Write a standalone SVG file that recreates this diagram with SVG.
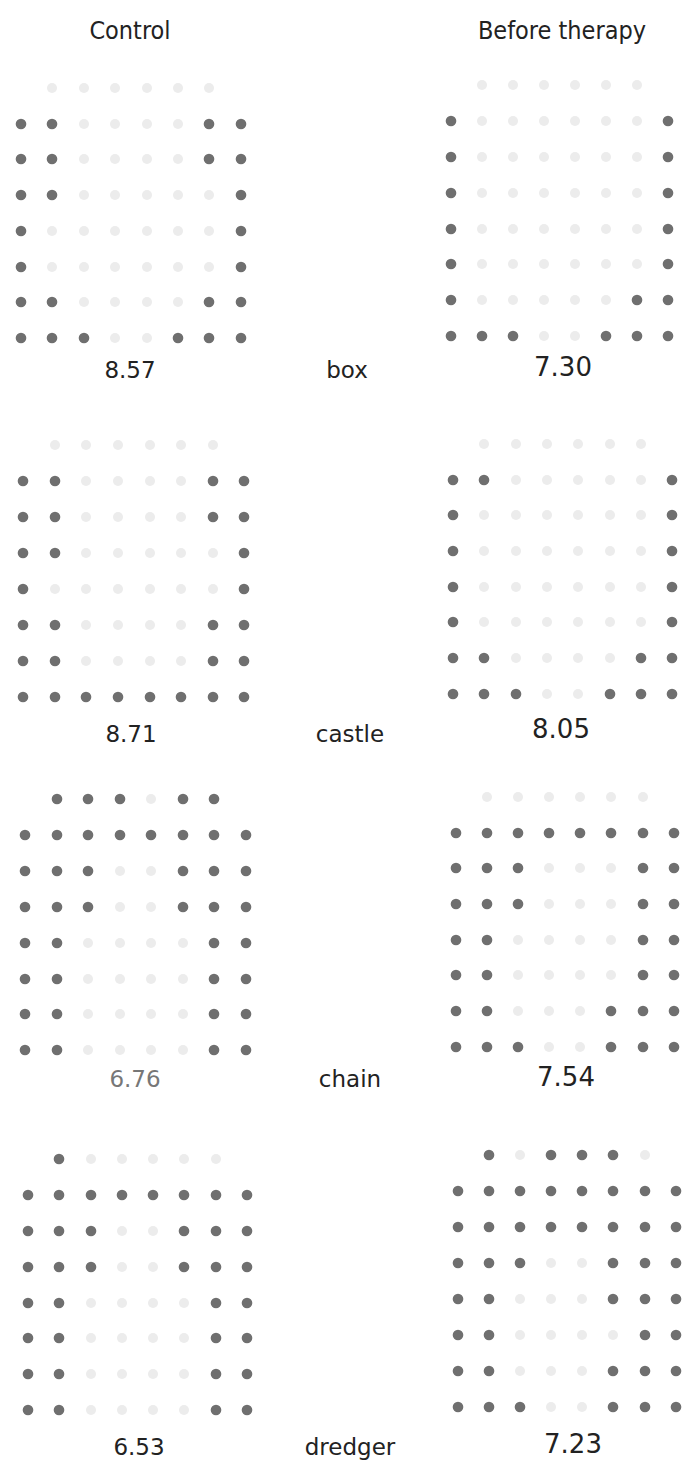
<svg xmlns="http://www.w3.org/2000/svg" xmlns:xlink="http://www.w3.org/1999/xlink" width="685" height="1462" viewBox="0 0 685 1462">
<style>
text{font-family:"DejaVu Sans","Liberation Sans",sans-serif;fill:#222;text-anchor:middle}
.title{font-size:25px;font-stretch:semi-condensed}
.num{font-size:23px}
.numr{font-size:26px}
.word{font-size:23px}
.gray{fill:#777}
</style>
<defs>
<circle id="d" r="5.3" fill="#6f6f6f"/>
<circle id="f" r="5" fill="#ececec"/>
</defs>
<rect width="685" height="1462" fill="#fff"/>
<g id="titles">
<text class="title" x="130" y="39">Control</text>
<text class="title" x="562" y="39">Before therapy</text>
</g>
<g id="connectors"/>
<g id="box-control">
<use href="#f" x="52" y="88"/><use href="#f" x="84" y="88"/><use href="#f" x="115" y="88"/><use href="#f" x="147" y="88"/><use href="#f" x="178" y="88"/><use href="#f" x="209" y="88"/>
<use href="#d" x="21" y="124"/><use href="#d" x="52" y="124"/><use href="#f" x="84" y="124"/><use href="#f" x="115" y="124"/><use href="#f" x="147" y="124"/><use href="#f" x="178" y="124"/><use href="#d" x="209" y="124"/><use href="#d" x="241" y="124"/>
<use href="#d" x="21" y="159"/><use href="#d" x="52" y="159"/><use href="#f" x="84" y="159"/><use href="#f" x="115" y="159"/><use href="#f" x="147" y="159"/><use href="#f" x="178" y="159"/><use href="#d" x="209" y="159"/><use href="#d" x="241" y="159"/>
<use href="#d" x="21" y="195"/><use href="#d" x="52" y="195"/><use href="#f" x="84" y="195"/><use href="#f" x="115" y="195"/><use href="#f" x="147" y="195"/><use href="#f" x="178" y="195"/><use href="#f" x="209" y="195"/><use href="#d" x="241" y="195"/>
<use href="#d" x="21" y="231"/><use href="#f" x="52" y="231"/><use href="#f" x="84" y="231"/><use href="#f" x="115" y="231"/><use href="#f" x="147" y="231"/><use href="#f" x="178" y="231"/><use href="#f" x="209" y="231"/><use href="#d" x="241" y="231"/>
<use href="#d" x="21" y="267"/><use href="#f" x="52" y="267"/><use href="#f" x="84" y="267"/><use href="#f" x="115" y="267"/><use href="#f" x="147" y="267"/><use href="#f" x="178" y="267"/><use href="#f" x="209" y="267"/><use href="#d" x="241" y="267"/>
<use href="#d" x="21" y="302"/><use href="#d" x="52" y="302"/><use href="#f" x="84" y="302"/><use href="#f" x="115" y="302"/><use href="#f" x="147" y="302"/><use href="#f" x="178" y="302"/><use href="#d" x="209" y="302"/><use href="#d" x="241" y="302"/>
<use href="#d" x="21" y="338"/><use href="#d" x="52" y="338"/><use href="#d" x="84" y="338"/><use href="#f" x="115" y="338"/><use href="#f" x="147" y="338"/><use href="#d" x="178" y="338"/><use href="#d" x="209" y="338"/><use href="#d" x="241" y="338"/>
</g>
<g id="box-before">
<use href="#f" x="482" y="85"/><use href="#f" x="513" y="85"/><use href="#f" x="544" y="85"/><use href="#f" x="575" y="85"/><use href="#f" x="606" y="85"/><use href="#f" x="637" y="85"/>
<use href="#d" x="451" y="121"/><use href="#f" x="482" y="121"/><use href="#f" x="513" y="121"/><use href="#f" x="544" y="121"/><use href="#f" x="575" y="121"/><use href="#f" x="606" y="121"/><use href="#f" x="637" y="121"/><use href="#d" x="668" y="121"/>
<use href="#d" x="451" y="157"/><use href="#f" x="482" y="157"/><use href="#f" x="513" y="157"/><use href="#f" x="544" y="157"/><use href="#f" x="575" y="157"/><use href="#f" x="606" y="157"/><use href="#f" x="637" y="157"/><use href="#d" x="668" y="157"/>
<use href="#d" x="451" y="193"/><use href="#f" x="482" y="193"/><use href="#f" x="513" y="193"/><use href="#f" x="544" y="193"/><use href="#f" x="575" y="193"/><use href="#f" x="606" y="193"/><use href="#f" x="637" y="193"/><use href="#d" x="668" y="193"/>
<use href="#d" x="451" y="229"/><use href="#f" x="482" y="229"/><use href="#f" x="513" y="229"/><use href="#f" x="544" y="229"/><use href="#f" x="575" y="229"/><use href="#f" x="606" y="229"/><use href="#f" x="637" y="229"/><use href="#d" x="668" y="229"/>
<use href="#d" x="451" y="264"/><use href="#f" x="482" y="264"/><use href="#f" x="513" y="264"/><use href="#f" x="544" y="264"/><use href="#f" x="575" y="264"/><use href="#f" x="606" y="264"/><use href="#f" x="637" y="264"/><use href="#d" x="668" y="264"/>
<use href="#d" x="451" y="300"/><use href="#f" x="482" y="300"/><use href="#f" x="513" y="300"/><use href="#f" x="544" y="300"/><use href="#f" x="575" y="300"/><use href="#f" x="606" y="300"/><use href="#d" x="637" y="300"/><use href="#d" x="668" y="300"/>
<use href="#d" x="451" y="336"/><use href="#d" x="482" y="336"/><use href="#d" x="513" y="336"/><use href="#f" x="544" y="336"/><use href="#f" x="575" y="336"/><use href="#d" x="606" y="336"/><use href="#d" x="637" y="336"/><use href="#d" x="668" y="336"/>
</g>
<g id="castle-control">
<use href="#f" x="55" y="445"/><use href="#f" x="86" y="445"/><use href="#f" x="118" y="445"/><use href="#f" x="150" y="445"/><use href="#f" x="181" y="445"/><use href="#f" x="213" y="445"/>
<use href="#d" x="23" y="481"/><use href="#d" x="55" y="481"/><use href="#f" x="86" y="481"/><use href="#f" x="118" y="481"/><use href="#f" x="150" y="481"/><use href="#f" x="181" y="481"/><use href="#d" x="213" y="481"/><use href="#d" x="244" y="481"/>
<use href="#d" x="23" y="517"/><use href="#d" x="55" y="517"/><use href="#f" x="86" y="517"/><use href="#f" x="118" y="517"/><use href="#f" x="150" y="517"/><use href="#f" x="181" y="517"/><use href="#d" x="213" y="517"/><use href="#d" x="244" y="517"/>
<use href="#d" x="23" y="553"/><use href="#d" x="55" y="553"/><use href="#f" x="86" y="553"/><use href="#f" x="118" y="553"/><use href="#f" x="150" y="553"/><use href="#f" x="181" y="553"/><use href="#f" x="213" y="553"/><use href="#d" x="244" y="553"/>
<use href="#d" x="23" y="589"/><use href="#f" x="55" y="589"/><use href="#f" x="86" y="589"/><use href="#f" x="118" y="589"/><use href="#f" x="150" y="589"/><use href="#f" x="181" y="589"/><use href="#f" x="213" y="589"/><use href="#d" x="244" y="589"/>
<use href="#d" x="23" y="625"/><use href="#d" x="55" y="625"/><use href="#f" x="86" y="625"/><use href="#f" x="118" y="625"/><use href="#f" x="150" y="625"/><use href="#f" x="181" y="625"/><use href="#d" x="213" y="625"/><use href="#d" x="244" y="625"/>
<use href="#d" x="23" y="661"/><use href="#d" x="55" y="661"/><use href="#f" x="86" y="661"/><use href="#f" x="118" y="661"/><use href="#f" x="150" y="661"/><use href="#f" x="181" y="661"/><use href="#d" x="213" y="661"/><use href="#d" x="244" y="661"/>
<use href="#d" x="23" y="697"/><use href="#d" x="55" y="697"/><use href="#d" x="86" y="697"/><use href="#d" x="118" y="697"/><use href="#d" x="150" y="697"/><use href="#d" x="181" y="697"/><use href="#d" x="213" y="697"/><use href="#d" x="244" y="697"/>
</g>
<g id="castle-before">
<use href="#f" x="484" y="444"/><use href="#f" x="516" y="444"/><use href="#f" x="547" y="444"/><use href="#f" x="578" y="444"/><use href="#f" x="610" y="444"/><use href="#f" x="641" y="444"/>
<use href="#d" x="453" y="480"/><use href="#d" x="484" y="480"/><use href="#f" x="516" y="480"/><use href="#f" x="547" y="480"/><use href="#f" x="578" y="480"/><use href="#f" x="610" y="480"/><use href="#f" x="641" y="480"/><use href="#d" x="672" y="480"/>
<use href="#d" x="453" y="515"/><use href="#f" x="484" y="515"/><use href="#f" x="516" y="515"/><use href="#f" x="547" y="515"/><use href="#f" x="578" y="515"/><use href="#f" x="610" y="515"/><use href="#f" x="641" y="515"/><use href="#d" x="672" y="515"/>
<use href="#d" x="453" y="551"/><use href="#f" x="484" y="551"/><use href="#f" x="516" y="551"/><use href="#f" x="547" y="551"/><use href="#f" x="578" y="551"/><use href="#f" x="610" y="551"/><use href="#f" x="641" y="551"/><use href="#d" x="672" y="551"/>
<use href="#d" x="453" y="587"/><use href="#f" x="484" y="587"/><use href="#f" x="516" y="587"/><use href="#f" x="547" y="587"/><use href="#f" x="578" y="587"/><use href="#f" x="610" y="587"/><use href="#f" x="641" y="587"/><use href="#d" x="672" y="587"/>
<use href="#d" x="453" y="622"/><use href="#f" x="484" y="622"/><use href="#f" x="516" y="622"/><use href="#f" x="547" y="622"/><use href="#f" x="578" y="622"/><use href="#f" x="610" y="622"/><use href="#f" x="641" y="622"/><use href="#d" x="672" y="622"/>
<use href="#d" x="453" y="658"/><use href="#d" x="484" y="658"/><use href="#f" x="516" y="658"/><use href="#f" x="547" y="658"/><use href="#f" x="578" y="658"/><use href="#f" x="610" y="658"/><use href="#d" x="641" y="658"/><use href="#d" x="672" y="658"/>
<use href="#d" x="453" y="694"/><use href="#d" x="484" y="694"/><use href="#d" x="516" y="694"/><use href="#f" x="547" y="694"/><use href="#f" x="578" y="694"/><use href="#d" x="610" y="694"/><use href="#d" x="641" y="694"/><use href="#d" x="672" y="694"/>
</g>
<g id="chain-control">
<use href="#d" x="57" y="799"/><use href="#d" x="88" y="799"/><use href="#d" x="120" y="799"/><use href="#f" x="151" y="799"/><use href="#d" x="183" y="799"/><use href="#d" x="214" y="799"/>
<use href="#d" x="25" y="835"/><use href="#d" x="57" y="835"/><use href="#d" x="88" y="835"/><use href="#d" x="120" y="835"/><use href="#d" x="151" y="835"/><use href="#d" x="183" y="835"/><use href="#d" x="214" y="835"/><use href="#d" x="246" y="835"/>
<use href="#d" x="25" y="871"/><use href="#d" x="57" y="871"/><use href="#d" x="88" y="871"/><use href="#f" x="120" y="871"/><use href="#f" x="151" y="871"/><use href="#d" x="183" y="871"/><use href="#d" x="214" y="871"/><use href="#d" x="246" y="871"/>
<use href="#d" x="25" y="907"/><use href="#d" x="57" y="907"/><use href="#d" x="88" y="907"/><use href="#f" x="120" y="907"/><use href="#f" x="151" y="907"/><use href="#d" x="183" y="907"/><use href="#d" x="214" y="907"/><use href="#d" x="246" y="907"/>
<use href="#d" x="25" y="943"/><use href="#d" x="57" y="943"/><use href="#f" x="88" y="943"/><use href="#f" x="120" y="943"/><use href="#f" x="151" y="943"/><use href="#f" x="183" y="943"/><use href="#d" x="214" y="943"/><use href="#d" x="246" y="943"/>
<use href="#d" x="25" y="979"/><use href="#d" x="57" y="979"/><use href="#f" x="88" y="979"/><use href="#f" x="120" y="979"/><use href="#f" x="151" y="979"/><use href="#f" x="183" y="979"/><use href="#d" x="214" y="979"/><use href="#d" x="246" y="979"/>
<use href="#d" x="25" y="1014"/><use href="#d" x="57" y="1014"/><use href="#f" x="88" y="1014"/><use href="#f" x="120" y="1014"/><use href="#f" x="151" y="1014"/><use href="#f" x="183" y="1014"/><use href="#d" x="214" y="1014"/><use href="#d" x="246" y="1014"/>
<use href="#d" x="25" y="1050"/><use href="#d" x="57" y="1050"/><use href="#f" x="88" y="1050"/><use href="#f" x="120" y="1050"/><use href="#f" x="151" y="1050"/><use href="#f" x="183" y="1050"/><use href="#d" x="214" y="1050"/><use href="#d" x="246" y="1050"/>
</g>
<g id="chain-before">
<use href="#f" x="487" y="797"/><use href="#f" x="518" y="797"/><use href="#f" x="549" y="797"/><use href="#f" x="580" y="797"/><use href="#f" x="611" y="797"/><use href="#f" x="643" y="797"/>
<use href="#d" x="456" y="833"/><use href="#d" x="487" y="833"/><use href="#d" x="518" y="833"/><use href="#d" x="549" y="833"/><use href="#d" x="580" y="833"/><use href="#d" x="611" y="833"/><use href="#d" x="643" y="833"/><use href="#d" x="674" y="833"/>
<use href="#d" x="456" y="868"/><use href="#d" x="487" y="868"/><use href="#d" x="518" y="868"/><use href="#f" x="549" y="868"/><use href="#f" x="580" y="868"/><use href="#f" x="611" y="868"/><use href="#d" x="643" y="868"/><use href="#d" x="674" y="868"/>
<use href="#d" x="456" y="904"/><use href="#d" x="487" y="904"/><use href="#d" x="518" y="904"/><use href="#f" x="549" y="904"/><use href="#f" x="580" y="904"/><use href="#f" x="611" y="904"/><use href="#d" x="643" y="904"/><use href="#d" x="674" y="904"/>
<use href="#d" x="456" y="940"/><use href="#d" x="487" y="940"/><use href="#f" x="518" y="940"/><use href="#f" x="549" y="940"/><use href="#f" x="580" y="940"/><use href="#f" x="611" y="940"/><use href="#d" x="643" y="940"/><use href="#d" x="674" y="940"/>
<use href="#d" x="456" y="975"/><use href="#d" x="487" y="975"/><use href="#f" x="518" y="975"/><use href="#f" x="549" y="975"/><use href="#f" x="580" y="975"/><use href="#f" x="611" y="975"/><use href="#d" x="643" y="975"/><use href="#d" x="674" y="975"/>
<use href="#d" x="456" y="1011"/><use href="#d" x="487" y="1011"/><use href="#f" x="518" y="1011"/><use href="#f" x="549" y="1011"/><use href="#f" x="580" y="1011"/><use href="#d" x="611" y="1011"/><use href="#d" x="643" y="1011"/><use href="#d" x="674" y="1011"/>
<use href="#d" x="456" y="1047"/><use href="#d" x="487" y="1047"/><use href="#d" x="518" y="1047"/><use href="#f" x="549" y="1047"/><use href="#f" x="580" y="1047"/><use href="#d" x="611" y="1047"/><use href="#d" x="643" y="1047"/><use href="#d" x="674" y="1047"/>
</g>
<g id="dredger-control">
<use href="#d" x="59" y="1159"/><use href="#f" x="91" y="1159"/><use href="#f" x="122" y="1159"/><use href="#f" x="153" y="1159"/><use href="#f" x="184" y="1159"/><use href="#f" x="216" y="1159"/>
<use href="#d" x="28" y="1195"/><use href="#d" x="59" y="1195"/><use href="#d" x="91" y="1195"/><use href="#d" x="122" y="1195"/><use href="#d" x="153" y="1195"/><use href="#d" x="184" y="1195"/><use href="#d" x="216" y="1195"/><use href="#d" x="247" y="1195"/>
<use href="#d" x="28" y="1231"/><use href="#d" x="59" y="1231"/><use href="#d" x="91" y="1231"/><use href="#f" x="122" y="1231"/><use href="#f" x="153" y="1231"/><use href="#d" x="184" y="1231"/><use href="#d" x="216" y="1231"/><use href="#d" x="247" y="1231"/>
<use href="#d" x="28" y="1267"/><use href="#d" x="59" y="1267"/><use href="#d" x="91" y="1267"/><use href="#f" x="122" y="1267"/><use href="#f" x="153" y="1267"/><use href="#d" x="184" y="1267"/><use href="#d" x="216" y="1267"/><use href="#d" x="247" y="1267"/>
<use href="#d" x="28" y="1303"/><use href="#d" x="59" y="1303"/><use href="#f" x="91" y="1303"/><use href="#f" x="122" y="1303"/><use href="#f" x="153" y="1303"/><use href="#f" x="184" y="1303"/><use href="#d" x="216" y="1303"/><use href="#d" x="247" y="1303"/>
<use href="#d" x="28" y="1338"/><use href="#d" x="59" y="1338"/><use href="#f" x="91" y="1338"/><use href="#f" x="122" y="1338"/><use href="#f" x="153" y="1338"/><use href="#f" x="184" y="1338"/><use href="#d" x="216" y="1338"/><use href="#d" x="247" y="1338"/>
<use href="#d" x="28" y="1374"/><use href="#d" x="59" y="1374"/><use href="#f" x="91" y="1374"/><use href="#f" x="122" y="1374"/><use href="#f" x="153" y="1374"/><use href="#f" x="184" y="1374"/><use href="#d" x="216" y="1374"/><use href="#d" x="247" y="1374"/>
<use href="#d" x="28" y="1410"/><use href="#d" x="59" y="1410"/><use href="#f" x="91" y="1410"/><use href="#f" x="122" y="1410"/><use href="#f" x="153" y="1410"/><use href="#f" x="184" y="1410"/><use href="#d" x="216" y="1410"/><use href="#d" x="247" y="1410"/>
</g>
<g id="dredger-before">
<use href="#d" x="489" y="1155"/><use href="#f" x="520" y="1155"/><use href="#d" x="551" y="1155"/><use href="#d" x="582" y="1155"/><use href="#d" x="613" y="1155"/><use href="#f" x="645" y="1155"/>
<use href="#d" x="458" y="1191"/><use href="#d" x="489" y="1191"/><use href="#d" x="520" y="1191"/><use href="#d" x="551" y="1191"/><use href="#d" x="582" y="1191"/><use href="#d" x="613" y="1191"/><use href="#d" x="645" y="1191"/><use href="#d" x="676" y="1191"/>
<use href="#d" x="458" y="1227"/><use href="#d" x="489" y="1227"/><use href="#d" x="520" y="1227"/><use href="#d" x="551" y="1227"/><use href="#d" x="582" y="1227"/><use href="#d" x="613" y="1227"/><use href="#d" x="645" y="1227"/><use href="#d" x="676" y="1227"/>
<use href="#d" x="458" y="1263"/><use href="#d" x="489" y="1263"/><use href="#d" x="520" y="1263"/><use href="#f" x="551" y="1263"/><use href="#f" x="582" y="1263"/><use href="#d" x="613" y="1263"/><use href="#d" x="645" y="1263"/><use href="#d" x="676" y="1263"/>
<use href="#d" x="458" y="1299"/><use href="#d" x="489" y="1299"/><use href="#f" x="520" y="1299"/><use href="#f" x="551" y="1299"/><use href="#f" x="582" y="1299"/><use href="#d" x="613" y="1299"/><use href="#d" x="645" y="1299"/><use href="#d" x="676" y="1299"/>
<use href="#d" x="458" y="1335"/><use href="#d" x="489" y="1335"/><use href="#f" x="520" y="1335"/><use href="#f" x="551" y="1335"/><use href="#f" x="582" y="1335"/><use href="#f" x="613" y="1335"/><use href="#d" x="645" y="1335"/><use href="#d" x="676" y="1335"/>
<use href="#d" x="458" y="1371"/><use href="#d" x="489" y="1371"/><use href="#f" x="520" y="1371"/><use href="#f" x="551" y="1371"/><use href="#f" x="582" y="1371"/><use href="#d" x="613" y="1371"/><use href="#d" x="645" y="1371"/><use href="#d" x="676" y="1371"/>
<use href="#d" x="458" y="1407"/><use href="#d" x="489" y="1407"/><use href="#d" x="520" y="1407"/><use href="#f" x="551" y="1407"/><use href="#f" x="582" y="1407"/><use href="#d" x="613" y="1407"/><use href="#d" x="645" y="1407"/><use href="#d" x="676" y="1407"/>
</g>
<g id="labels">
<text class="num" x="130" y="378">8.57</text>
<text class="word" x="347" y="378">box</text>
<text class="numr" x="563" y="376">7.30</text>
<text class="num" x="131" y="742">8.71</text>
<text class="word" x="350" y="742">castle</text>
<text class="numr" x="561" y="738">8.05</text>
<text class="num gray" x="135" y="1087">6.76</text>
<text class="word" x="350" y="1087">chain</text>
<text class="numr" x="566" y="1086">7.54</text>
<text class="num" x="139" y="1455">6.53</text>
<text class="word" x="350" y="1455">dredger</text>
<text class="numr" x="573" y="1453">7.23</text>
</g>
</svg>
